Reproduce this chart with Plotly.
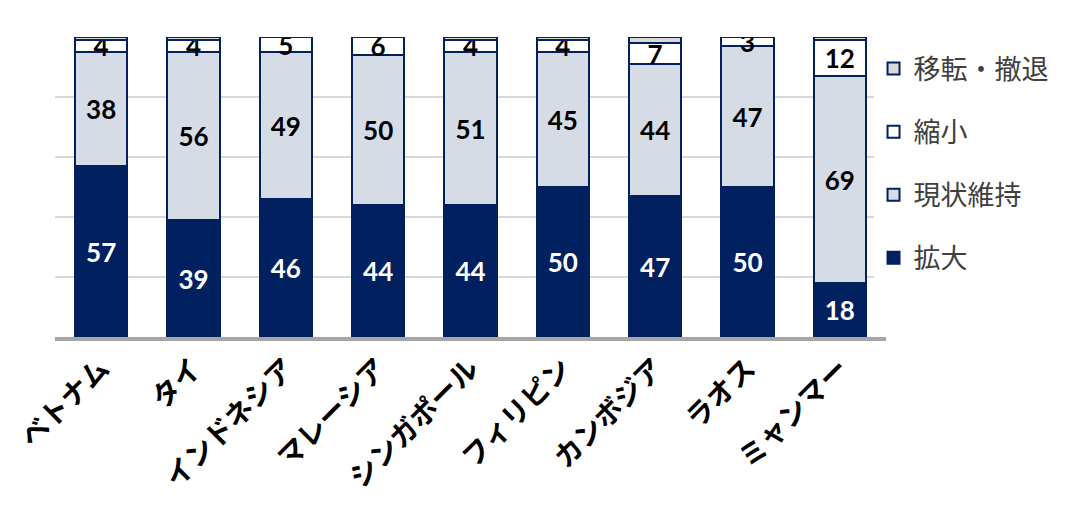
import plotly.graph_objects as go

# countries (x categories)
countries = ["ベトナム", "タイ", "インドネシア", "マレーシア", "シンガポール",
             "フィリピン", "カンボジア", "ラオス", "ミャンマー"]

# percentages per response
expand = [57, 39, 46, 44, 44, 50, 47, 50, 18]       # 拡大
keep = [38, 56, 49, 50, 51, 45, 44, 47, 69]         # 現状維持
shrink = [4, 4, 5, 6, 4, 4, 7, 3, 12]               # 縮小
withdraw = [1, 1, 0.5, 0.5, 1, 1, 2, 0.5, 1]        # 移転・撤退

navy = "#002060"
label_font = "Lato, Noto Sans CJK JP"

fig = go.Figure()

# stacked series, bottom to top; last item is legend rank (top of legend first)
series = [
	("拡大", expand, navy, "white", True, 4),
	("現状維持", keep, "#d6dce5", "black", True, 3),
	("縮小", shrink, "white", "black", True, 2),
	("移転・撤退", withdraw, "#d9d9d9", "black", False, 1),
]

for name, vals, color, txtcolor, show_text, rank in series:
	fig.add_trace(go.Bar(
		x=countries, y=vals, name=name,
		legendrank=rank,
		legendgroup=name,
		marker=dict(color=color, line=dict(color=navy, width=2)),
		text=vals if show_text else None,
		texttemplate="%{text}" if show_text else None,
		textposition="inside" if show_text else "none",
		insidetextanchor="middle",
		textangle=0,
		constraintext="none",
		textfont=dict(family=label_font, size=26, color=txtcolor, weight="bold"),
	))

# page body has an 8px margin, so margins are shifted by that
fig.update_layout(
	barmode="stack",
	bargap=0.43,
	width=1091, height=520,
	margin=dict(l=47, r=213, t=29, b=191),
	plot_bgcolor="white",
	paper_bgcolor="white",
	uniformtext=dict(minsize=26, mode="show"),
	font=dict(family="Noto Sans CJK JP", color="black"),
	legend=dict(
		x=0.985, y=0.975, xanchor="left", yanchor="top",
		traceorder="grouped",
		tracegroupgap=25,
		font=dict(size=27, color="#404040"),
		itemwidth=30,
	),
)

fig.update_xaxes(
	tickangle=-45,
	tickfont=dict(family="Noto Sans CJK JP", size=28, color="black", weight="bold"),
	showline=True, linecolor="#a6a6a6", linewidth=4,
	ticks="",
	automargin=False,
)
fig.update_yaxes(
	range=[0, 100], dtick=20,
	showgrid=True, gridcolor="#d9d9d9", gridwidth=2,
	showticklabels=False, zeroline=False,
	automargin=False,
)

fig.write_html("out.html")
